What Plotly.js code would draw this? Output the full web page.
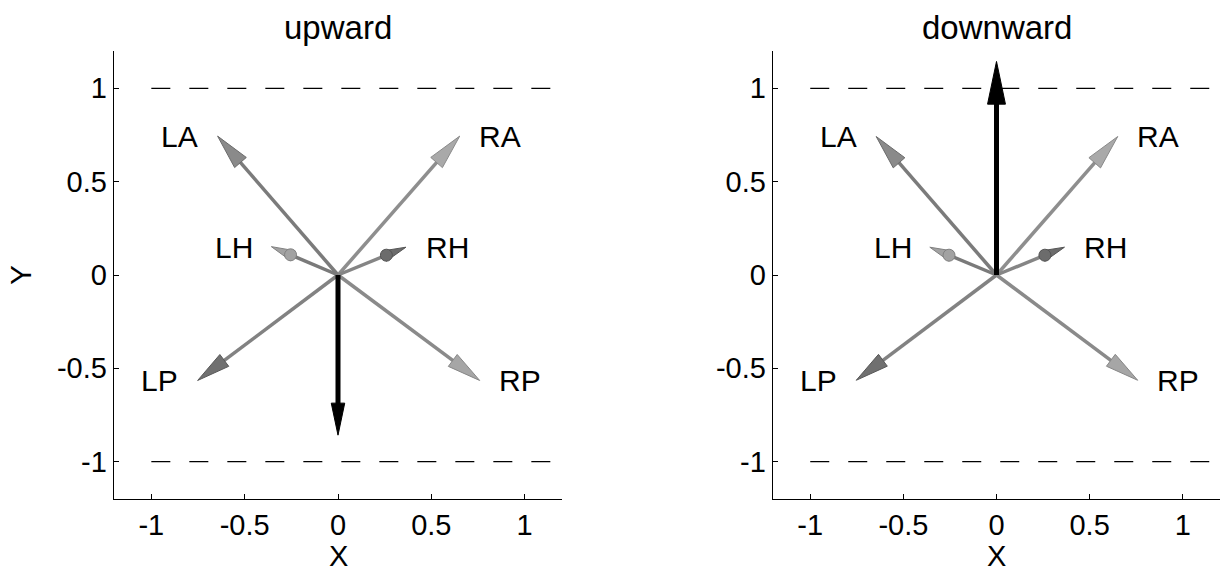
<!DOCTYPE html>
<html>
<head>
<meta charset="utf-8">
<script src="https://cdn.plot.ly/plotly-3.0.1.min.js"></script>
<style>html,body{margin:0;padding:0;background:#fff;}#chart{width:1226px;height:566px;}</style>
</head>
<body>
<div id="chart"></div>
<script>
// ---- data ----
const panelTitles = ['upward', 'downward'];
const limbs = ['LA', 'RA', 'LH', 'RH', 'LP', 'RP'];
const upwardTipX = [-0.645, 0.652, -0.357, 0.364, -0.752, 0.759];
const upwardTipY = [0.744, 0.744, 0.152, 0.149, -0.565, -0.565];
const downwardTipX = [-0.646, 0.651, -0.358, 0.365, -0.753, 0.758];
const downwardTipY = [0.742, 0.742, 0.149, 0.149, -0.564, -0.564];
const netTipX = [0, 0];          // black resultant arrow, per panel
const netTipY = [-0.858, 1.144];
const labelX = [-0.847, 0.869, -0.558, 0.585, -0.954, 0.975];
const labelY = [0.742, 0.742, 0.149, 0.149, -0.567, -0.567];
const refLineY = [1, -1];
const refLineX = [-1, 1.2];
const tickVals = [-1, -0.5, 0, 0.5, 1];
const tickText = ['-1', '-0.5', '0', '0.5', '1'];
const xTitle = 'X';
const yTitle = 'Y';

// ---- styles ----
const FONT = 'Liberation Sans, Arial, Helvetica, sans-serif';
const shaftColors = ['#7b7b7b', '#8e8e8e', '#7a7a7a', '#858585', '#828282', '#8a8a8a'];
const headFill = ['#8a8a8a', '#a9a9a9', '#a2a2a2', '#6c6c6c', '#707070', '#a6a6a6'];
const headLine = ['#6a6a6a', '#8a8a8a', '#808080', '#555555', '#585858', '#878787'];

const traces = [];
function arrow(tx, ty, xa, ya, opt) {
  const len = Math.hypot(tx, ty);
  const dx = tx / len, dy = ty / len;
  const hl = len * opt.headFrac, hw = len * opt.halfFrac;
  const bx = tx - dx * hl, by = ty - dy * hl;
  const nx = -dy, ny = dx;
  traces.push({
    type: 'scatter', mode: 'lines', xaxis: xa, yaxis: ya, hoverinfo: 'skip', showlegend: false,
    x: [0, bx + dx * hl * 0.1], y: [0, by + dy * hl * 0.1],
    line: {color: opt.shaft, width: opt.width}
  });
  traces.push({
    type: 'scatter', mode: 'lines', xaxis: xa, yaxis: ya, hoverinfo: 'skip', showlegend: false,
    x: [tx, bx + nx * hw, bx - nx * hw, tx], y: [ty, by + ny * hw, by - ny * hw, ty],
    fill: 'toself', fillcolor: opt.fill, line: {color: opt.line, width: 1}
  });
  if (opt.ball) {
    traces.push({
      type: 'scatter', mode: 'markers', xaxis: xa, yaxis: ya, hoverinfo: 'skip', showlegend: false,
      x: [bx + dx * hl * 0.1], y: [by + dy * hl * 0.1],
      marker: {size: 12, color: opt.fill, line: {color: opt.line, width: 1}}
    });
  }
}

const tipsX = [upwardTipX, downwardTipX];
const tipsY = [upwardTipY, downwardTipY];
const annotations = [];
for (let p = 0; p < 2; p++) {
  const xa = p === 0 ? 'x' : 'x2';
  const ya = p === 0 ? 'y' : 'y2';
  // dashed reference lines
  refLineY.forEach(v => traces.push({
    type: 'scatter', mode: 'lines', xaxis: xa, yaxis: ya, hoverinfo: 'skip', showlegend: false,
    x: refLineX, y: [v, v], line: {color: '#000', width: 1.2, dash: '19px,19px'}
  }));
  for (let i = 0; i < limbs.length; i++) {
    const small = limbs[i] === 'LH' || limbs[i] === 'RH';
    arrow(tipsX[p][i], tipsY[p][i], xa, ya, {
      headFrac: small ? 0.32 : 0.19, halfFrac: small ? 0.075 : 0.042,
      width: 3.5, shaft: shaftColors[i], fill: headFill[i], line: headLine[i], ball: small
    });
    annotations.push({
      xref: xa, yref: ya, x: labelX[i], y: labelY[i], text: limbs[i], showarrow: false,
      xanchor: 'center', yanchor: 'middle', font: {family: FONT, size: 30, color: '#000'}
    });
  }
  arrow(netTipX[p], netTipY[p], xa, ya, {
    headFrac: 0.2, halfFrac: 0.042, width: 5, shaft: '#000', fill: '#000', line: '#000'
  });
  annotations.push({
    xref: xa + ' domain', yref: 'paper', x: 0.5, y: 1 - 27 / 566,
    text: panelTitles[p], showarrow: false, xanchor: 'center', yanchor: 'middle',
    font: {family: FONT, size: 33, color: '#000'}
  });
  // x-axis title below the tick labels (it sits at the page's bottom edge, as in the reference)
  annotations.push({
    xref: xa + ' domain', yref: 'paper', x: 0.5, y: 1 - 556 / 566,
    text: xTitle, showarrow: false, xanchor: 'center', yanchor: 'middle', borderpad: 0,
    font: {family: FONT, size: 29, color: '#000'}
  });
}

function axis(extra) {
  return Object.assign({
    range: [-1.2, 1.2], showgrid: false, zeroline: false, showline: true, mirror: false,
    linecolor: '#000', linewidth: 1.3, ticks: 'inside', ticklen: 5, tickcolor: '#000',
    tickwidth: 1, tickvals: tickVals, ticktext: tickText, fixedrange: true,
    tickfont: {family: FONT, size: 29, color: '#000'}
  }, extra);
}

const yDom = [1 - 499 / 566, 1 - 51 / 566];
const layout = {
  width: 1226, height: 566, margin: {l: 0, r: 0, t: 0, b: 0},
  paper_bgcolor: '#fff', plot_bgcolor: 'rgba(0,0,0,0)', showlegend: false,
  xaxis: axis({domain: [114 / 1226, 562 / 1226], anchor: 'y'}),
  yaxis: axis({domain: yDom, anchor: 'x',
    title: {text: yTitle, font: {family: FONT, size: 30, color: '#000'}, standoff: 16}}),
  xaxis2: axis({domain: [773 / 1226, 1220 / 1226], anchor: 'y2'}),
  yaxis2: axis({domain: yDom, anchor: 'x2'}),
  annotations: annotations
};

Plotly.newPlot('chart', traces, layout, {displayModeBar: false, staticPlot: true});
</script>
</body>
</html>
